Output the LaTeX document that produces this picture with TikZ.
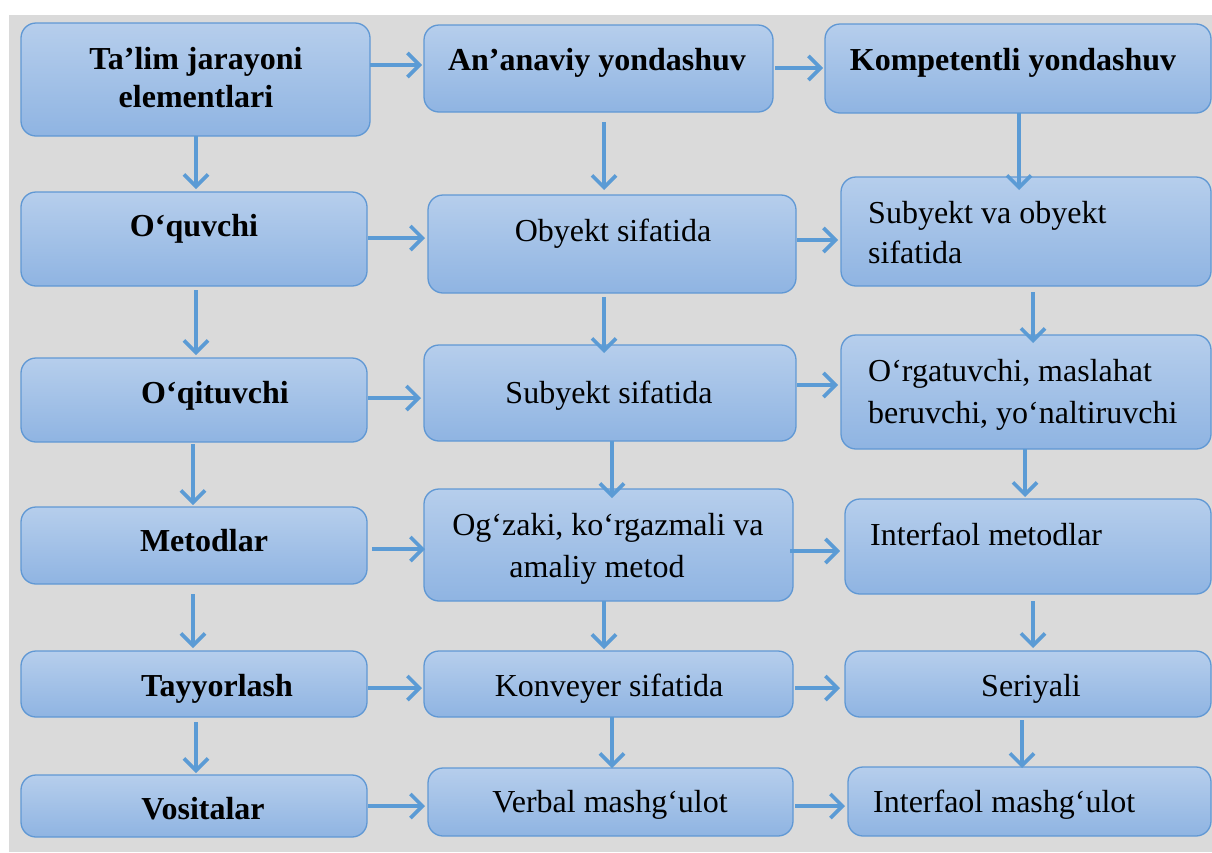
\documentclass[tikz,border=0pt]{standalone}
\usepackage{fontspec}
\setmainfont{Liberation Serif}
\usetikzlibrary{arrows.meta}
\definecolor{bgc}{RGB}{218,218,218}
\definecolor{boxtop}{RGB}{182,206,236}
\definecolor{boxbot}{RGB}{143,180,226}
\definecolor{boxline}{RGB}{96,152,212}
\definecolor{arrc}{RGB}{91,155,213}
\tikzset{
  box/.style={draw=boxline, line width=1.3pt, rounded corners=15pt, top color=boxtop, bottom color=boxbot, inner sep=0pt, outer sep=0pt},
  lab/.style={inner sep=0pt, font=\fontsize{32}{40}\selectfont},
  blab/.style={lab, font=\fontsize{32}{40}\selectfont\bfseries},
  arr/.style={draw=arrc, line width=3.6pt, -{Straight Barb[length=12pt,width=24pt]}},
}
\newcommand\mybox[5]{\node[box, minimum width={(#4-#2)*1pt}, minimum height={(#5-#3)*1pt}] (#1) at ({(#2+#4)/2},{(#3+#5)/2}) {};}
\newcommand\harr[6]{\draw[arr, shorten <=#4pt, shorten >=#5pt] (#1.east |- 0,#3) -- (#2.west |- 0,#3);}
\newcommand\varr[6]{\draw[arr, shorten <=#4pt, shorten >=#5pt] (#1.south -| #3,0) -- (#2.north -| #3,0);}
\begin{document}
\begin{tikzpicture}[x=1pt, y=-1pt]
\useasboundingbox (0,0) rectangle (1212,852);
\fill[bgc] (9,15) rectangle (1212,852);
% column 1
\mybox{b1}{21}{23}{370}{136}
\mybox{oq}{21}{192}{367}{286}
\mybox{oqi}{21}{358}{367}{442}
\mybox{met}{21}{507}{367}{584}
\mybox{tay}{21}{651}{367}{717}
\mybox{vos}{21}{775}{367}{837}
% column 2
\mybox{an}{424}{25}{773}{112}
\mybox{ob}{428}{195}{796}{293}
\mybox{sub}{424}{345}{796}{441}
\mybox{ogz}{424}{489}{793}{601}
\mybox{kon}{424}{651}{793}{717}
\mybox{verb}{428}{768}{793}{836}
% column 3
\mybox{ko}{825}{24}{1211}{113}
\mybox{svo}{841}{177}{1211}{286}
\mybox{org}{841}{335}{1211}{449}
\mybox{int}{845}{499}{1211}{594}
\mybox{ser}{845}{651}{1211}{717}
\mybox{intm}{848}{767}{1211}{836}
% labels column 1
\node[blab, anchor=base] (t1a) at (196,69) {Ta’lim jarayoni};
\node[blab, anchor=base] (t1b) at (196,107) {elementlari};
\node[blab, anchor=base] (t2) at (194,236) {O‘quvchi};
\node[blab, anchor=base] (t3) at (215,403) {O‘qituvchi};
\node[blab, anchor=base] (t4) at (204,551) {Metodlar};
\node[blab, anchor=base] (t5) at (217,696) {Tayyorlash};
\node[blab, anchor=base] (t6) at (203,819) {Vositalar};
% labels column 2
\node[blab, anchor=base] (u1) at (597,70) {An’anaviy yondashuv};
\node[lab, anchor=base] (u2) at (613,241) {Obyekt sifatida};
\node[lab, anchor=base] (u3) at (609,403) {Subyekt sifatida};
\node[lab, anchor=base] (u4a) at (608,535) {Og‘zaki, ko‘rgazmali va};
\node[lab, anchor=base] (u4b) at (597,577) {amaliy metod};
\node[lab, anchor=base] (u5) at (609,696) {Konveyer sifatida};
\node[lab, anchor=base] (u6) at (610,812) {Verbal mashg‘ulot};
% labels column 3
\node[blab, anchor=base] (v1) at (1013,70) {Kompetentli yondashuv};
\node[lab, anchor=base west] (v2a) at (868,223) {Subyekt va obyekt};
\node[lab, anchor=base west] (v2b) at (868,263) {sifatida};
\node[lab, anchor=base west] (v3a) at (868,381) {O‘rgatuvchi, maslahat};
\node[lab, anchor=base west] (v3b) at (868,423) {beruvchi, yo‘naltiruvchi};
\node[lab, anchor=base west] (v4) at (870,545) {Interfaol metodlar};
\node[lab, anchor=base] (v5) at (1031,696) {Seriyali};
\node[lab, anchor=base west] (v6) at (873,812) {Interfaol mashg‘ulot};
% horizontal arrows
\harr{b1}{an}{65}{0}{2}{}
\harr{an}{ko}{68}{2}{2}{}
\harr{oq}{ob}{238}{1}{3}{}
\harr{ob}{svo}{240}{1}{3}{}
\harr{oqi}{sub}{398}{1}{3}{}
\harr{sub}{org}{385}{1}{3}{}
\harr{met}{ogz}{549}{5}{-1}{}
\harr{ogz}{int}{551}{-3}{5}{}
\harr{tay}{kon}{688}{1}{2}{}
\harr{kon}{ser}{688}{2}{5}{}
\harr{vos}{verb}{806}{1}{3}{}
\harr{verb}{intm}{806}{2}{3}{}
% vertical arrows
\varr{b1}{oq}{196}{0}{3}{}
\varr{oq}{oqi}{196}{4}{3}{}
\varr{oqi}{met}{193}{2}{2}{}
\varr{met}{tay}{193}{10}{3}{}
\varr{tay}{vos}{196}{5}{2}{}
\varr{an}{ob}{604}{10}{5}{}
\varr{ob}{sub}{604}{4}{-8}{}
\varr{sub}{ogz}{612}{0}{-9}{}
\varr{ogz}{kon}{604}{0}{2}{}
\varr{kon}{verb}{612}{0}{0}{}
\varr{ko}{svo}{1019}{0}{-13}{}
\varr{svo}{org}{1033}{6}{-8}{}
\varr{org}{int}{1025}{0}{2}{}
\varr{int}{ser}{1033}{7}{3}{}
\varr{ser}{intm}{1022}{3}{-1}{}
\end{tikzpicture}
\end{document}
